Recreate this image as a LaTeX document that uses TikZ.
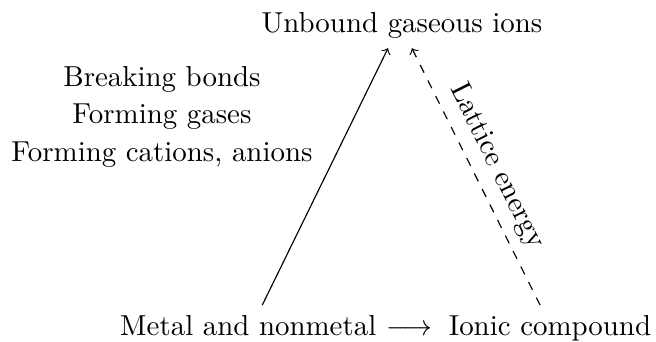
\documentclass[tikz,border=0pt]{standalone}
\usepackage{amsmath}
\usepackage{tikz}

\begin{document}
\begin{tikzpicture}[
    >=to,
    lab/.style={anchor=base},
  ]
  \useasboundingbox (0,0) rectangle (7.98,4.15);

  %% ---- the three states ----------------------------------------------
  \node[lab] (ions)  at (4.89,3.76) {Unbound gaseous ions};
  \node[lab] (metal) at (3.02,0.07) {Metal and nonmetal};
  \node[lab] (to)    at (4.98,0.07) {$\longrightarrow$};
  \node[lab] (ionic) at (6.69,0.07) {Ionic compound};

  %% ---- steps on the way up ----------------------------------------------
  \node[align=center] (steps) at (1.97,2.73)
    {Breaking bonds\\[1pt] Forming gases\\[1pt] Forming cations, anions};

  %% ---- the two routes ------------------------------------------------
  \draw[->] ([xshift=0.17cm]metal.north) -- ([xshift=-0.17cm]ions.south);
  \draw[<-, dashed] ([xshift=0.12cm]ions.south) -- ([xshift=-0.12cm]ionic.north)
    node[midway, above, sloped] {Lattice energy};
\end{tikzpicture}
\end{document}
